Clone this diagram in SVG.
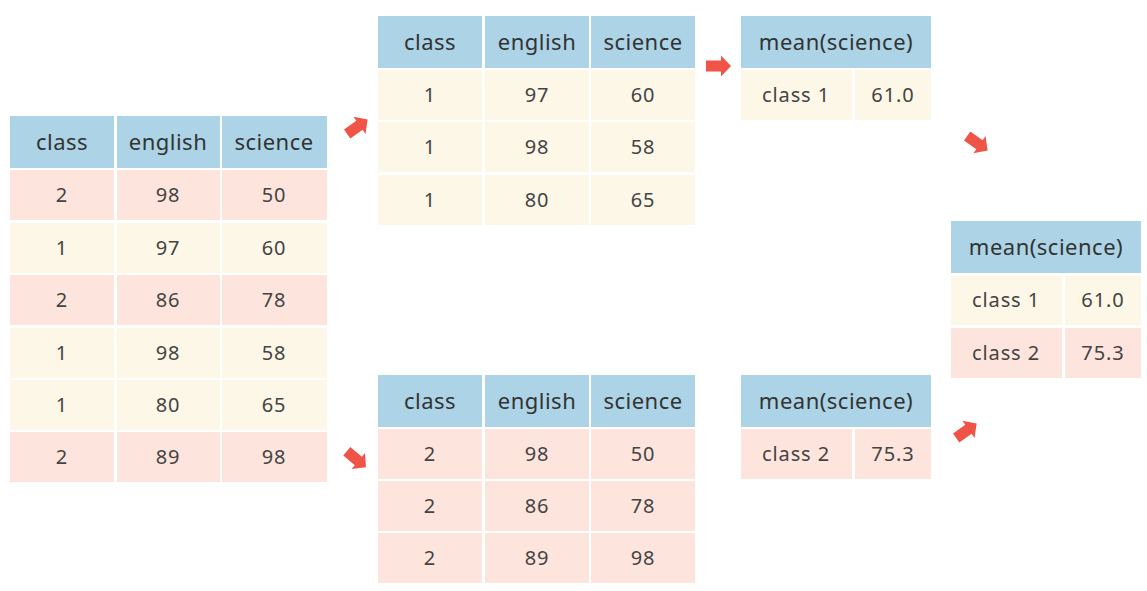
<svg xmlns="http://www.w3.org/2000/svg" width="1147" height="591" viewBox="0 0 1147 591">
<defs>
<style>
.h{fill:#acd3e6}
.y{fill:#fdf7e7}
.p{fill:#fde5dd}
text{font-family:"Noto Sans","Liberation Sans",sans-serif;fill:#333;text-anchor:middle}
.ht{font-size:22px;letter-spacing:0.5px}
.dt{font-size:20px;fill:#444;letter-spacing:0.9px}
.arr{fill:#ef5446}
</style>
<path id="a" d="M-12,-5.5 H3 V-10.5 L13,0 L3,10.5 V5.5 H-12 Z"/>
</defs>
<rect width="1147" height="591" fill="#fff"/>
<g id="table-full">
<rect class="h" x="10" y="116" width="104" height="52"/><rect class="h" x="117" y="116" width="103" height="52"/><rect class="h" x="222" y="116" width="105" height="52"/>
<text class="ht" x="62" y="150">class</text><text class="ht" x="168" y="150">english</text><text class="ht" x="274" y="150">science</text>
<rect class="p" x="10" y="170" width="104" height="50"/><rect class="p" x="117" y="170" width="103" height="50"/><rect class="p" x="222" y="170" width="105" height="50"/>
<text class="dt" x="62" y="202">2</text><text class="dt" x="168" y="202">98</text><text class="dt" x="274" y="202">50</text>
<rect class="y" x="10" y="223" width="104" height="50"/><rect class="y" x="117" y="223" width="103" height="50"/><rect class="y" x="222" y="223" width="105" height="50"/>
<text class="dt" x="62" y="255">1</text><text class="dt" x="168" y="255">97</text><text class="dt" x="274" y="255">60</text>
<rect class="p" x="10" y="275" width="104" height="50"/><rect class="p" x="117" y="275" width="103" height="50"/><rect class="p" x="222" y="275" width="105" height="50"/>
<text class="dt" x="62" y="307">2</text><text class="dt" x="168" y="307">86</text><text class="dt" x="274" y="307">78</text>
<rect class="y" x="10" y="328" width="104" height="50"/><rect class="y" x="117" y="328" width="103" height="50"/><rect class="y" x="222" y="328" width="105" height="50"/>
<text class="dt" x="62" y="360">1</text><text class="dt" x="168" y="360">98</text><text class="dt" x="274" y="360">58</text>
<rect class="y" x="10" y="380" width="104" height="50"/><rect class="y" x="117" y="380" width="103" height="50"/><rect class="y" x="222" y="380" width="105" height="50"/>
<text class="dt" x="62" y="412">1</text><text class="dt" x="168" y="412">80</text><text class="dt" x="274" y="412">65</text>
<rect class="p" x="10" y="432" width="104" height="50"/><rect class="p" x="117" y="432" width="103" height="50"/><rect class="p" x="222" y="432" width="105" height="50"/>
<text class="dt" x="62" y="464">2</text><text class="dt" x="168" y="464">89</text><text class="dt" x="274" y="464">98</text>
</g>
<g id="table-class1">
<rect class="h" x="378" y="16" width="104" height="52"/><rect class="h" x="485" y="16" width="104" height="52"/><rect class="h" x="591" y="16" width="104" height="52"/>
<text class="ht" x="430" y="50">class</text><text class="ht" x="537" y="50">english</text><text class="ht" x="643" y="50">science</text>
<rect class="y" x="378" y="70" width="104" height="50"/><rect class="y" x="485" y="70" width="104" height="50"/><rect class="y" x="591" y="70" width="104" height="50"/>
<text class="dt" x="430" y="102">1</text><text class="dt" x="537" y="102">97</text><text class="dt" x="643" y="102">60</text>
<rect class="y" x="378" y="122" width="104" height="50"/><rect class="y" x="485" y="122" width="104" height="50"/><rect class="y" x="591" y="122" width="104" height="50"/>
<text class="dt" x="430" y="154">1</text><text class="dt" x="537" y="154">98</text><text class="dt" x="643" y="154">58</text>
<rect class="y" x="378" y="175" width="104" height="50"/><rect class="y" x="485" y="175" width="104" height="50"/><rect class="y" x="591" y="175" width="104" height="50"/>
<text class="dt" x="430" y="207">1</text><text class="dt" x="537" y="207">80</text><text class="dt" x="643" y="207">65</text>
</g>
<g id="table-class2">
<rect class="h" x="378" y="375" width="104" height="52"/><rect class="h" x="485" y="375" width="104" height="52"/><rect class="h" x="591" y="375" width="104" height="52"/>
<text class="ht" x="430" y="409">class</text><text class="ht" x="537" y="409">english</text><text class="ht" x="643" y="409">science</text>
<rect class="p" x="378" y="429" width="104" height="50"/><rect class="p" x="485" y="429" width="104" height="50"/><rect class="p" x="591" y="429" width="104" height="50"/>
<text class="dt" x="430" y="461">2</text><text class="dt" x="537" y="461">98</text><text class="dt" x="643" y="461">50</text>
<rect class="p" x="378" y="481" width="104" height="50"/><rect class="p" x="485" y="481" width="104" height="50"/><rect class="p" x="591" y="481" width="104" height="50"/>
<text class="dt" x="430" y="513">2</text><text class="dt" x="537" y="513">86</text><text class="dt" x="643" y="513">78</text>
<rect class="p" x="378" y="533" width="104" height="50"/><rect class="p" x="485" y="533" width="104" height="50"/><rect class="p" x="591" y="533" width="104" height="50"/>
<text class="dt" x="430" y="565">2</text><text class="dt" x="537" y="565">89</text><text class="dt" x="643" y="565">98</text>
</g>
<g id="mean-class1">
<rect class="h" x="741" y="16" width="190" height="52"/>
<text class="ht" x="836" y="50">mean(science)</text>
<rect class="y" x="741" y="70" width="111" height="50"/><rect class="y" x="855" y="70" width="76" height="50"/>
<text class="dt" x="796" y="102">class 1</text><text class="dt" x="893" y="102">61.0</text>
</g>
<g id="mean-class2">
<rect class="h" x="741" y="375" width="190" height="52"/>
<text class="ht" x="836" y="409">mean(science)</text>
<rect class="p" x="741" y="429" width="111" height="50"/><rect class="p" x="855" y="429" width="76" height="50"/>
<text class="dt" x="796" y="461">class 2</text><text class="dt" x="893" y="461">75.3</text>
</g>
<g id="mean-combined">
<rect class="h" x="951" y="221" width="190" height="52"/>
<text class="ht" x="1046" y="255">mean(science)</text>
<rect class="y" x="951" y="276" width="111" height="49"/><rect class="y" x="1065" y="276" width="76" height="49"/>
<text class="dt" x="1006" y="307">class 1</text><text class="dt" x="1103" y="307">61.0</text>
<rect class="p" x="951" y="328" width="111" height="50"/><rect class="p" x="1065" y="328" width="76" height="50"/>
<text class="dt" x="1006" y="360">class 2</text><text class="dt" x="1103" y="360">75.3</text>
</g>
<g id="connectors" class="arr">
<use href="#a" transform="translate(357,127) rotate(-35)"/>
<use href="#a" transform="translate(356,459) rotate(40)"/>
<use href="#a" transform="translate(718,66)"/>
<use href="#a" transform="translate(977,143) rotate(35)"/>
<use href="#a" transform="translate(966,431) rotate(-35)"/>
</g>
</svg>
